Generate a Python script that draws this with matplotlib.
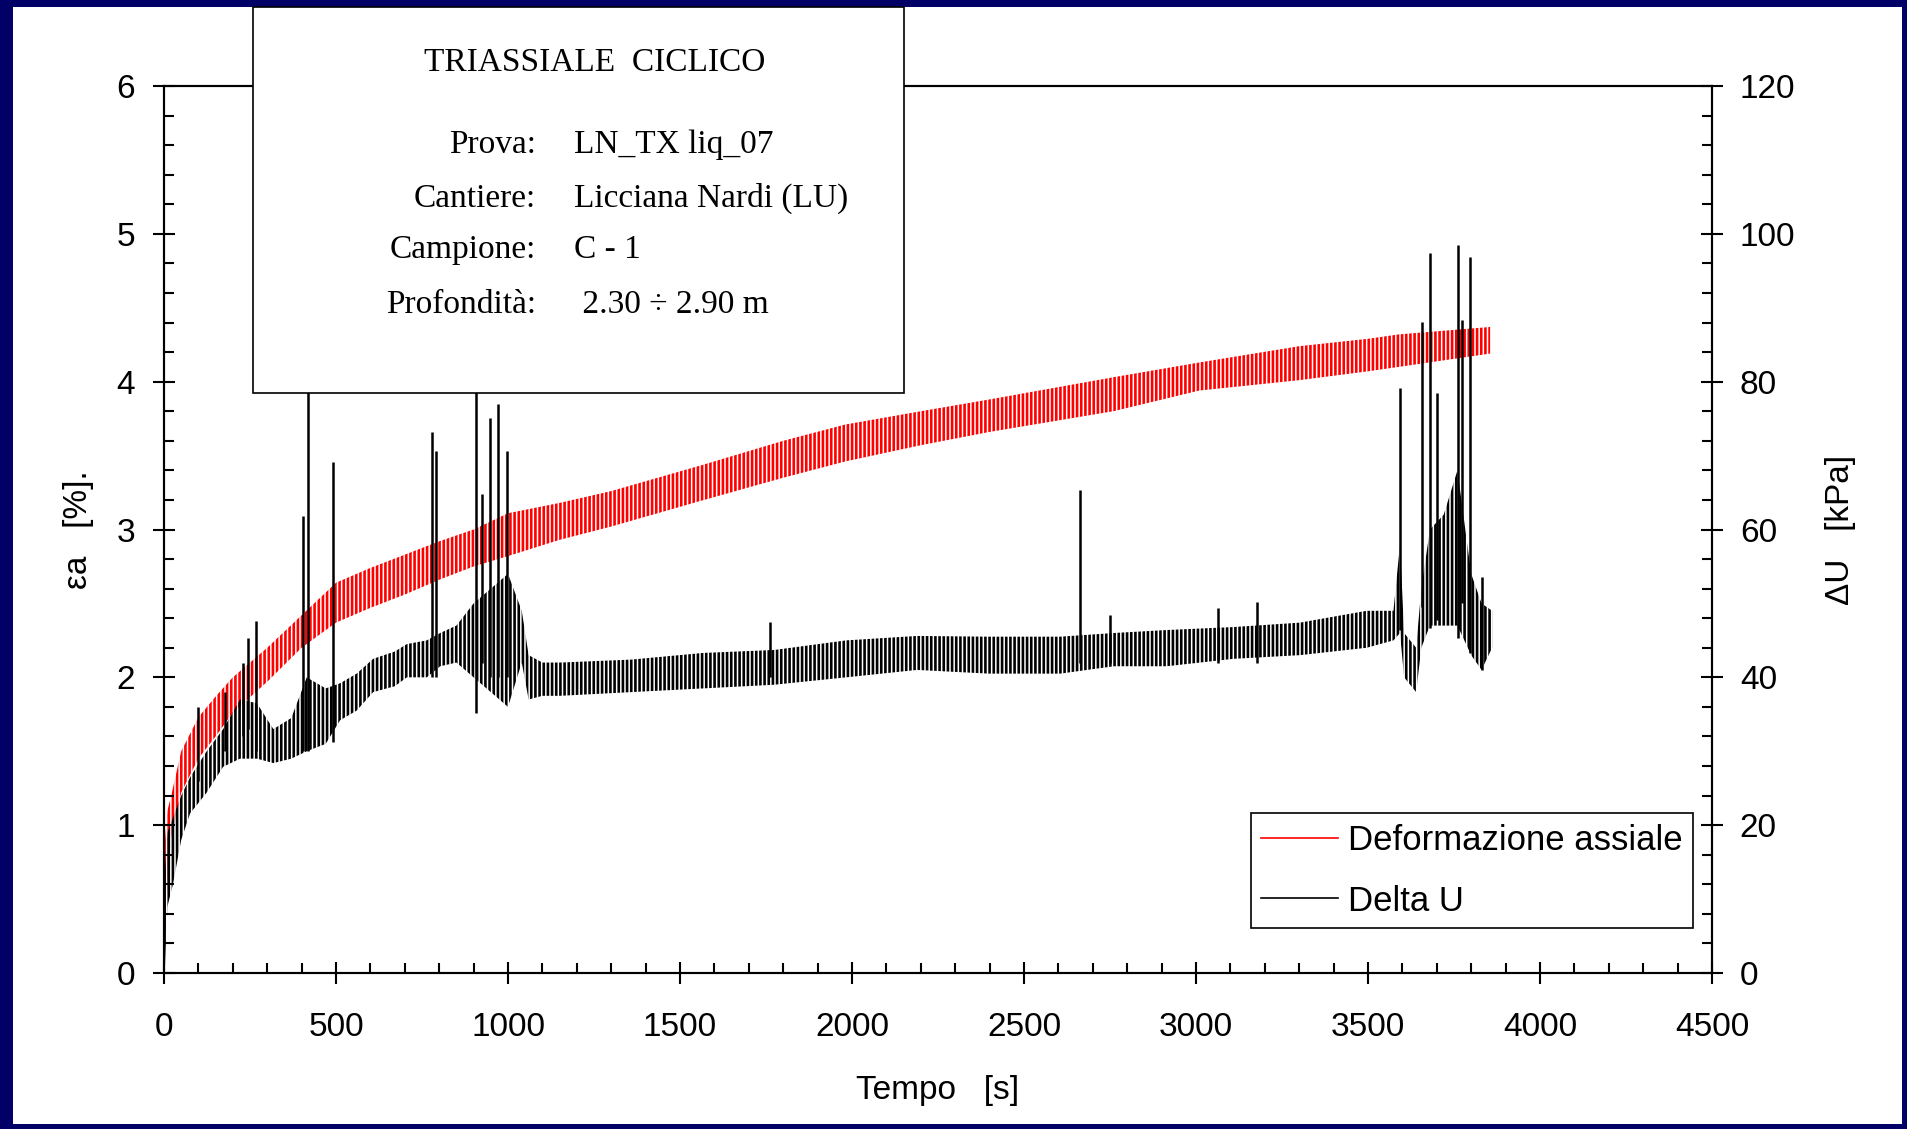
import numpy as np
import matplotlib
matplotlib.use('Agg')
import matplotlib.pyplot as plt
from matplotlib.patches import Rectangle
from matplotlib.lines import Line2D
from matplotlib.ticker import MultipleLocator

# deformazione assiale: inviluppo inferiore / superiore dei cicli [%]
ea_t = [0, 5, 10, 20, 50, 100, 150, 200, 300, 400, 500, 600, 700, 800, 900, 1000,
        1150, 1300, 1570, 1800, 1980, 2200, 2400, 2760, 3010, 3300, 3500, 3590, 3855]
ea_lo = [0.2, 0.3, 0.6, 0.91, 1.22, 1.45, 1.6, 1.76, 1.97, 2.2, 2.37, 2.47, 2.56, 2.66, 2.75, 2.82,
         2.93, 3.02, 3.2, 3.35, 3.46, 3.57, 3.66, 3.80, 3.94, 4.01, 4.07, 4.10, 4.19]
ea_hi = [0.8, 0.96, 1.1, 1.19, 1.5, 1.73, 1.87, 2.0, 2.2, 2.42, 2.64, 2.74, 2.83, 2.92, 3.0, 3.11,
         3.18, 3.26, 3.44, 3.6, 3.71, 3.8, 3.88, 4.03, 4.13, 4.24, 4.29, 4.32, 4.37]

# delta U: fascia dei cicli [kPa]
du_t = [0, 3, 10, 26, 50, 76, 124, 172, 221, 270, 318, 370, 415, 470, 512, 560, 608, 671, 706,
        764, 803, 850, 900, 950, 1000, 1040, 1060, 1100, 1151, 1358, 1567, 1774, 1983, 2189, 2398,
        2605, 2762, 2915, 3108, 3302, 3496, 3574, 3593, 3605, 3640, 3655, 3680, 3720, 3760, 3800,
        3830, 3861]
du_lo = [0, 1, 9, 12, 18, 21.6, 24.4, 27.9, 29, 29, 28.4, 29, 30, 31, 34.2, 35.5, 38, 38.8, 40,
         40, 41.5, 42, 40, 38, 36, 42, 37, 37.5, 37.5, 38, 38.5, 39, 40, 41, 40.5,
         40.5, 41.5, 41.5, 42.5, 43, 44, 45, 46, 40, 38, 44, 47, 47, 47, 43,
         41, 44]
du_hi = [3, 14, 19, 21, 24, 26.5, 30, 33, 37, 36.5, 33, 34.5, 40, 38.5, 39.2, 40.5, 42.5, 43.5, 44.5,
         45, 46, 47, 50, 52, 54, 49, 43, 42, 42, 42.4, 43.3, 43.7, 45, 45.6, 45.5,
         45.5, 46, 46.4, 46.8, 47.4, 49, 49, 58, 46, 44, 52, 60, 62, 68, 54,
         50, 49]

# picchi isolati di delta U [kPa]
spk_t = [100, 176, 230, 245, 267, 404, 420, 492, 779, 790, 907, 924, 948, 971, 996,
         1762, 2663, 2750, 3064, 3177, 3593, 3657, 3680, 3700, 3762, 3773, 3796, 3830]
spk_lo = [26, 30, 32, 33, 30, 30, 30, 31.3, 40, 40, 35.2, 42, 40, 40, 40,
          40, 42, 42, 42, 42, 46.4, 49.5, 46.7, 47.8, 45.3, 50, 43.3, 41]
spk_hi = [36, 38, 42, 45.3, 47.6, 61.8, 88, 69.1, 73.2, 70.6, 85, 64.8, 75.1, 77, 70.6,
          47.5, 65.4, 48.4, 49.4, 50.2, 79.2, 88.1, 97.4, 78.5, 98.5, 88.4, 96.8, 53.6]

info_labels = ['Prova:', 'Cantiere:', 'Campione:', 'Profondità:']
info_values = ['LN_TX liq_07', 'Licciana Nardi (LU)', 'C - 1', ' 2.30 ÷ 2.90 m']

plt.rcParams['font.family'] = ['Liberation Sans', 'DejaVu Sans']
plt.rcParams['hatch.linewidth'] = 1.9

W, H = 1907, 1129
fig = plt.figure(figsize=(W / 100, H / 100), dpi=100)
fig.patch.set_facecolor('#000066')
fig.add_artist(Rectangle((13 / W, 5 / H), (1902 - 13) / W, (1122 - 5) / H,
                         transform=fig.transFigure, facecolor='white',
                         edgecolor='none', zorder=-5))

ax = fig.add_axes([164 / W, (H - 973) / H, 1548 / W, 887 / H])
ax2 = ax.twinx()

ax.fill_between(ea_t, ea_lo, ea_hi, facecolor='none', edgecolor='red',
                hatch='||||', linewidth=0)
ax2.fill_between(du_t, du_lo, du_hi, facecolor='none', edgecolor='black',
                 hatch='||||', linewidth=0)
ax2.vlines(spk_t, spk_lo, spk_hi, color='black', lw=1.8)

ax.set_xlim(0, 4500)
ax.set_ylim(0, 6)
ax2.set_ylim(0, 120)
ax.xaxis.set_major_locator(MultipleLocator(500))
ax.xaxis.set_minor_locator(MultipleLocator(100))
ax.yaxis.set_major_locator(MultipleLocator(1))
ax.yaxis.set_minor_locator(MultipleLocator(0.2))
ax2.yaxis.set_major_locator(MultipleLocator(20))
ax2.yaxis.set_minor_locator(MultipleLocator(4))

for a in (ax, ax2):
    for s in a.spines.values():
        s.set_linewidth(1.5)
    a.tick_params(which='major', direction='inout', length=16, width=1.5, labelsize=24)
    a.tick_params(which='minor', direction='in', length=7, width=1.5)
ax.tick_params(axis='x', pad=20)
ax.tick_params(axis='y', pad=13)
ax2.tick_params(axis='y', pad=12)

ax.set_xlabel('Tempo   [s]', fontsize=24)
ax.xaxis.set_label_coords(0.5, -0.115)
ax.set_ylabel('εa   [%].', fontsize=24)
ax.yaxis.set_label_coords(-0.045, 0.5)
ax2.set_ylabel('ΔU   [kPa]', fontsize=24)
ax2.yaxis.set_label_coords(1.073, 0.5)

handles = [Line2D([], [], color='red', lw=1.2), Line2D([], [], color='black', lw=1.2)]
leg = ax2.legend(handles, ['Deformazione assiale', 'Delta U'], loc='lower right',
                 bbox_to_anchor=(1693 / W, (H - 928) / H), bbox_transform=fig.transFigure,
                 fancybox=False, edgecolor='black', framealpha=1, fontsize=25,
                 handlelength=2.2, handletextpad=0.3, borderpad=0.3,
                 labelspacing=0.8, borderaxespad=0)
leg.get_frame().set_linewidth(1.2)

# riquadro informazioni
fig.add_artist(Rectangle((253 / W, (H - 393) / H), (904 - 253) / W, (393 - 7) / H,
                         transform=fig.transFigure, facecolor='white',
                         edgecolor='black', lw=1.2, zorder=10))
serif = ['Liberation Serif', 'DejaVu Serif']
fig.text(595 / W, (H - 71) / H, 'TRIASSIALE  CICLICO', ha='center', va='baseline',
         fontsize=24, family=serif, zorder=11)
for lab, val, yb in zip(info_labels, info_values, [153, 207, 258, 313]):
    fig.text(536 / W, (H - yb) / H, lab, ha='right', va='baseline',
             fontsize=24, family=serif, zorder=11)
    fig.text(574 / W, (H - yb) / H, val, ha='left', va='baseline',
             fontsize=24, family=serif, zorder=11)

fig.savefig('out.png', dpi=100, facecolor=fig.get_facecolor())
